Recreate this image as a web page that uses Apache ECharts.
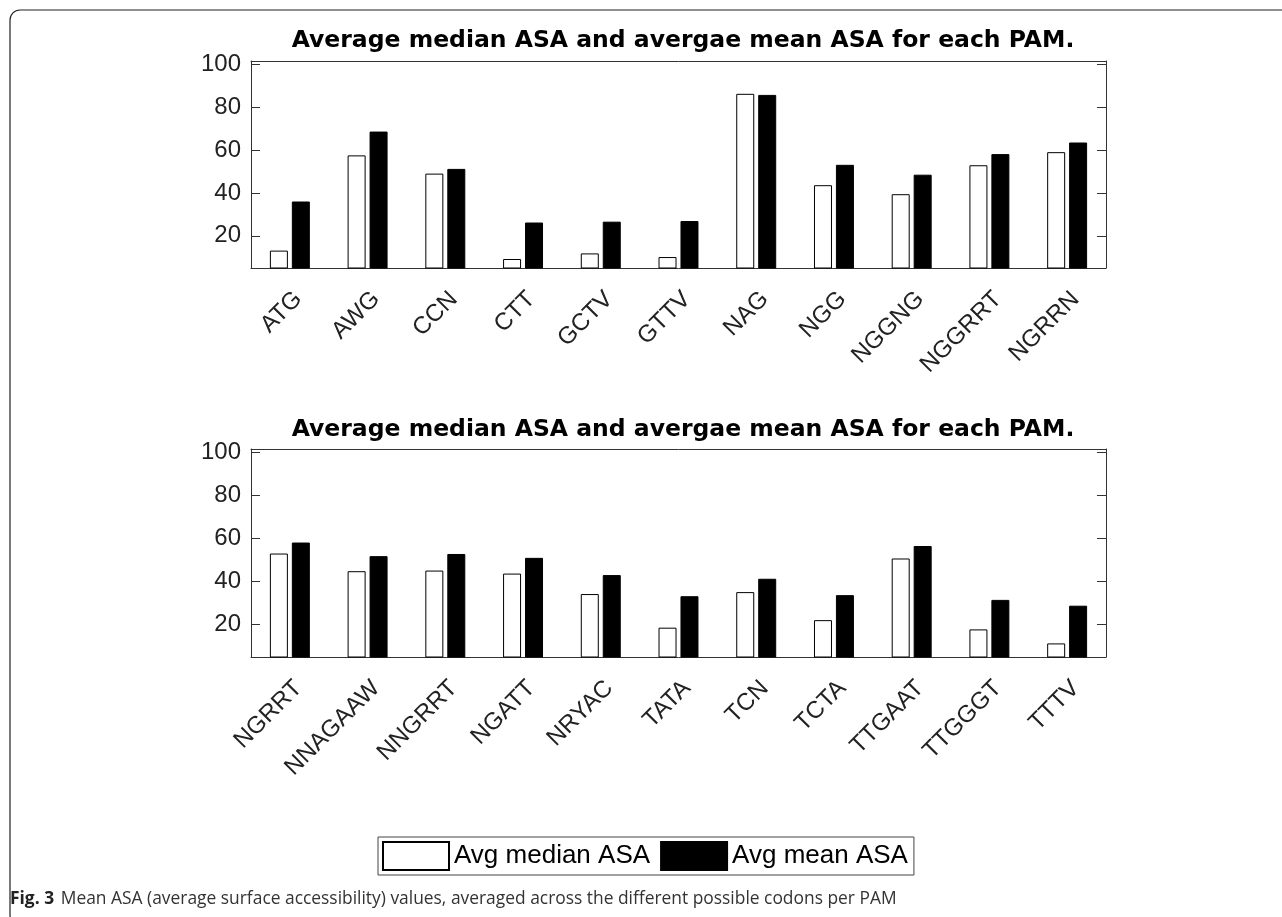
<!DOCTYPE html>
<html>
<head>
<meta charset="utf-8">
<script src="https://cdn.jsdelivr.net/npm/echarts@6/dist/echarts.min.js"></script>
<style>
  html, body { margin: 0; padding: 0; background: #fff; }
  #chart { width: 1282px; height: 917px; }
</style>
</head>
<body>
<div id="chart"></div>
<script>
// values
var topCategories = ["ATG", "AWG", "CCN", "CTT", "GCTV", "GTTV", "NAG", "NGG", "NGGNG", "NGGRRT", "NGRRN"];
var topMedian = [13.1, 57.5, 49.0, 9.2, 11.8, 10.1, 86.2, 43.6, 39.4, 52.9, 59.0];
var topMean = [36.0, 68.6, 51.2, 26.2, 26.6, 26.9, 85.7, 53.1, 48.5, 58.1, 63.5];

var bottomCategories = ["NGRRT", "NNAGAAW", "NNGRRT", "NGATT", "NRYAC", "TATA", "TCN", "TCTA", "TTGAAT", "TTGGGT", "TTTV"];
var bottomMedian = [53.0, 44.8, 45.1, 43.7, 34.2, 18.6, 35.1, 22.1, 50.7, 17.8, 11.3];
var bottomMean = [58.1, 51.8, 52.8, 51.0, 43.0, 33.2, 41.3, 33.7, 56.5, 31.5, 28.8];

var yTicks = [20, 40, 60, 80, 100];
var seriesNames = ["Avg median ASA", "Avg mean ASA"];
var panelTitle = "Average median ASA and avergae mean ASA for each PAM.";
var captionLabel = "Fig. 3";
var captionText = "Mean ASA (average surface accessibility) values, averaged across the different possible codons per PAM";

var FONT = "Liberation Sans";
var grids = [
  { left: 251, right: 176, top: 61, height: 207 },
  { left: 251, right: 176, top: 449, height: 208 }
];

function xAxes(g, cats) {
  return [
    {
      type: "category",
      gridIndex: g,
      data: cats,
      position: "bottom",
      axisLine: { lineStyle: { color: "#333", width: 1 } },
      axisTick: { inside: true, alignWithLabel: true, length: 10, lineStyle: { color: "#888", width: 1.5 } },
      axisLabel: {
        interval: 0,
        rotate: 45,
        align: "right",
        verticalAlign: "top",
        margin: 19,
        fontSize: 24,
        fontFamily: FONT,
        color: "#222"
      }
    },
    {
      type: "category",
      gridIndex: g,
      data: cats,
      position: "top",
      axisLine: { lineStyle: { color: "#333", width: 1 } },
      axisTick: { inside: true, alignWithLabel: true, length: 8, lineStyle: { color: "#333" } },
      axisLabel: { show: false }
    }
  ];
}

function yAxes(g) {
  var base = {
    type: "value",
    gridIndex: g,
    min: 5,
    max: 101.5,
    splitLine: { show: false },
    axisLine: { show: true, lineStyle: { color: "#333", width: 1 } },
    axisTick: { show: true, inside: true, length: 9, customValues: yTicks, lineStyle: { color: "#333" } }
  };
  return [
    Object.assign({}, base, {
      position: "left",
      axisLabel: { customValues: yTicks, margin: 10, fontSize: 24, fontFamily: FONT, color: "#222" }
    }),
    Object.assign({}, base, {
      position: "right",
      axisLabel: { show: false }
    })
  ];
}

function barSeries(g, median, mean) {
  return [
    {
      name: seriesNames[0],
      type: "bar",
      xAxisIndex: g * 2,
      yAxisIndex: g * 2,
      barWidth: 18,
      barGap: "22%",
      itemStyle: { color: "#fff", borderColor: "#000", borderWidth: 1 },
      data: median
    },
    {
      name: seriesNames[1],
      type: "bar",
      xAxisIndex: g * 2,
      yAxisIndex: g * 2,
      barWidth: 18,
      barGap: "22%",
      itemStyle: { color: "#000", borderColor: "#000", borderWidth: 1 },
      data: mean
    }
  ];
}

var chart = echarts.init(document.getElementById("chart"));

var titleStyle = { fontSize: 23.5, fontWeight: "bold", fontFamily: "DejaVu Sans", color: "#000" };

var option = {
  animation: false,
  backgroundColor: "#fff",
  title: [
    { text: panelTitle, left: 678, top: 24, textAlign: "center", textStyle: titleStyle },
    { text: panelTitle, left: 678, top: 413, textAlign: "center", textStyle: titleStyle }
  ],
  legend: {
    data: seriesNames,
    left: 378,
    top: 837,
    icon: "rect",
    itemWidth: 66,
    itemHeight: 28,
    itemGap: 10,
    padding: [4, 6, 4, 4],
    borderColor: "#444",
    borderWidth: 1,
    textStyle: { fontSize: 26, fontFamily: FONT, color: "#000" }
  },
  grid: grids,
  xAxis: xAxes(0, topCategories).concat(xAxes(1, bottomCategories)),
  yAxis: yAxes(0).concat(yAxes(1)),
  series: barSeries(0, topMedian, topMean).concat(barSeries(1, bottomMedian, bottomMean)),
  graphic: [
    {
      type: "rect",
      silent: true,
      shape: { x: 10, y: 10, width: 1400, height: 915, r: 10 },
      style: { fill: null, stroke: "#222", lineWidth: 1.2 }
    },
    {
      type: "text",
      left: 10,
      top: 891,
      style: {
        text: "{b|" + captionLabel + "}  {n|" + captionText + "}",
        rich: {
          b: { fontFamily: "Open Sans", fontWeight: "bold", fontSize: 17.4, fill: "#222" },
          n: { fontFamily: "Open Sans", fontSize: 17.4, fill: "#333" }
        }
      }
    }
  ]
};

chart.setOption(option);
</script>
</body>
</html>
